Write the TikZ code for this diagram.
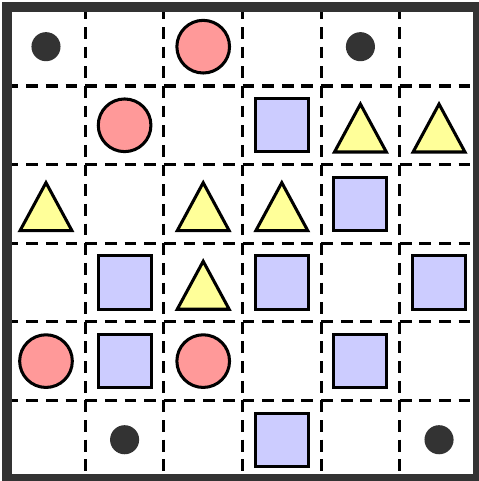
\documentclass[tikz,border=0pt]{standalone}
\usepackage{tikz}
\usetikzlibrary{positioning}
\definecolor{rim}{HTML}{333333}
\definecolor{pinkc}{HTML}{FF9999}
\definecolor{bluesq}{HTML}{CCCCFF}
\definecolor{yeltri}{HTML}{FFFF99}

\begin{document}
\begin{tikzpicture}[x=1cm,y=1cm]
\tikzstyle{C}=[circle,draw,line width=1.1pt,fill=pinkc,minimum size=0.67cm,inner sep=0pt]
\tikzstyle{S}=[rectangle,draw,line width=1.1pt,fill=bluesq,minimum size=0.675cm,inner sep=0pt]
\tikzstyle{P}=[circle,fill=rim,minimum size=0.37cm,inner sep=0pt]
\tikzstyle{T}=[draw,line width=1.1pt,fill=yeltri,line join=miter]
\tikzstyle{D}=[line width=1.1pt,dash pattern=on 0.15cm off 0.1cm]
\path[use as bounding box,fill=white] (-0.085,-0.025) rectangle (5.996,6.094);
% grid
\foreach \i in {1,...,5} {
  \draw[D] (0,\i) -- (6,\i);
  \draw[D] (\i,6) -- (\i,0);
}
% dots
\node[P] (p1) at (0.5,5.5) {};
\node[P] (p2) at (4.5,5.5) {};
\node[P] (p3) at (1.5,0.5) {};
\node[P] (p4) at (5.5,0.5) {};
% circles
\node[C] (c1) at (2.5,5.5) {};
\node[C] (c2) at (1.5,4.5) {};
\node[C] (c3) at (0.5,1.5) {};
\node[C] (c4) at (2.5,1.5) {};
% squares
\node[S] (s1) at (3.5,4.5) {};
\node[S] (s2) at (4.5,3.5) {};
\node[S] (s3) at (1.5,2.5) {};
\node[S] (s4) at (3.5,2.5) {};
\node[S] (s5) at (5.5,2.5) {};
\node[S] (s6) at (1.5,1.5) {};
\node[S] (s7) at (4.5,1.5) {};
\node[S] (s8) at (3.5,0.5) {};
% triangles
\foreach \x/\y in {4.5/4.5,5.5/4.5,0.5/3.5,2.5/3.5,3.5/3.5,2.5/2.5}
  \draw[T] (\x-0.33,\y-0.34) -- (\x,\y+0.27) -- (\x+0.33,\y-0.34) -- cycle;
% frame
\draw[rim,line width=0.127cm] (0,0) rectangle (6,6);
\end{tikzpicture}
\end{document}
